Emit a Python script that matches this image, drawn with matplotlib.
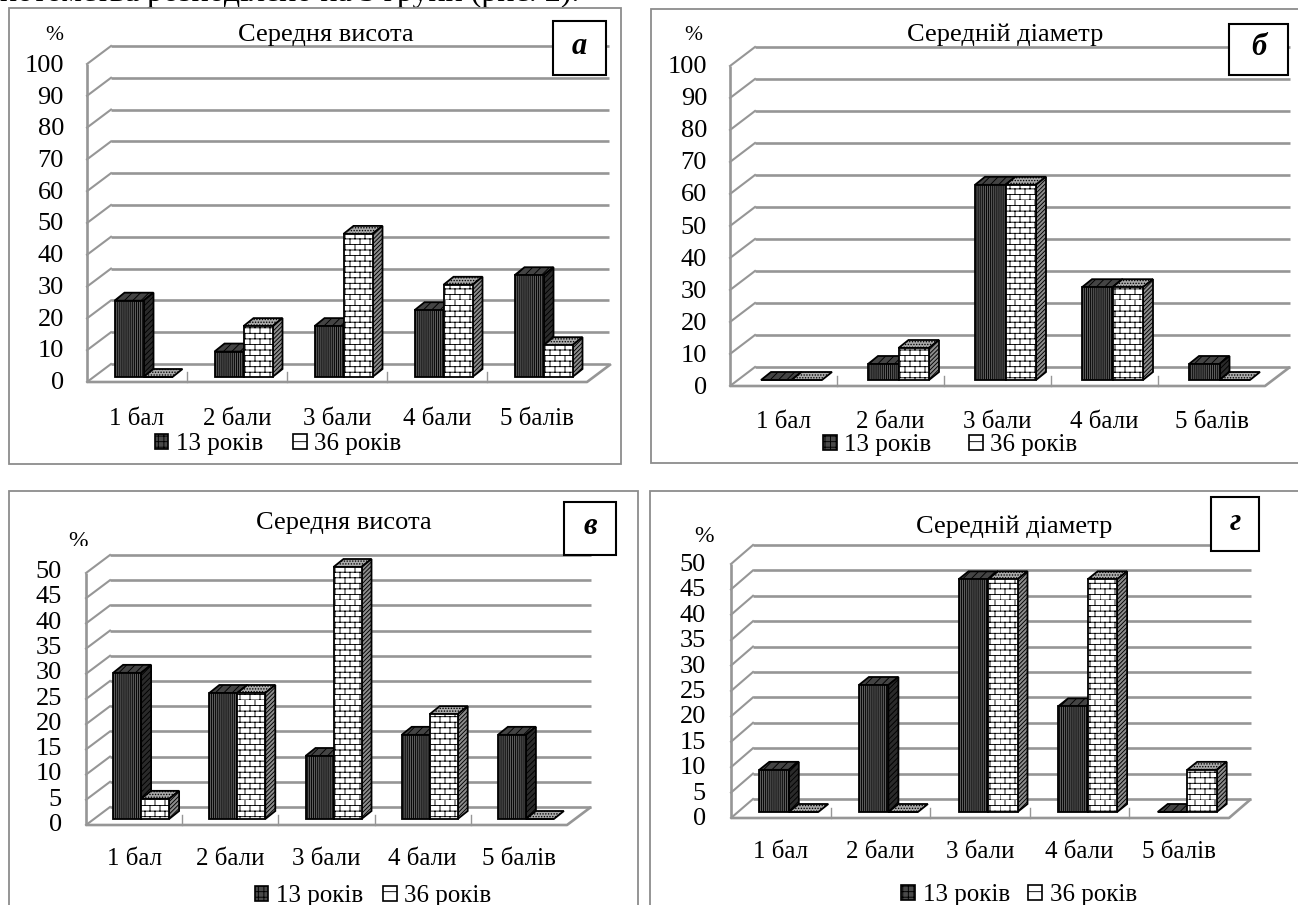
import numpy as np
import matplotlib
matplotlib.use("Agg")
import matplotlib.pyplot as plt
import matplotlib.hatch as mhatch
from matplotlib.path import Path
from matplotlib.patches import Rectangle, Patch
from matplotlib.transforms import Bbox

categories = ["1 бал", "2 бали", "3 бали", "4 бали", "5 балів"]
series_names = ["13 років", "36 років"]

a_13 = [24, 8, 16, 21, 32]
a_36 = [0, 16, 45, 29, 10]
b_13 = [0, 5, 61, 29, 5]
b_36 = [0, 10, 61, 29, 0]
c_13 = [29, 25, 12.5, 16.7, 16.7]
c_36 = [4, 25, 50, 20.8, 0]
d_13 = [8.3, 25, 45.8, 20.8, 0]
d_36 = [0, 0, 45.8, 45.8, 8.3]

ticks_100 = list(range(0, 101, 10))
ticks_50 = list(range(0, 51, 5))

W, H = 1298, 905
GRID = "#969696"
FRAME = "#8c8c8c"
SERIF = "Liberation Serif"


class Bricks(mhatch.HatchPatternBase):
    """Brick pattern for the 36-year series; takes over the 'O' symbol."""
    rows, cols = 18, 10

    def __init__(self, hatch, density):
        self.active = "O" in hatch
        self.num_vertices = (self.rows + self.rows * self.cols) * 2 if self.active else 0

    def set_vertices_and_codes(self, vertices, codes):
        if not self.active:
            return
        v = []
        for r in range(self.rows):
            y = r / self.rows
            v += [(0, y), (1, y)]
            off = 0 if r % 2 == 0 else 0.5 / self.cols
            for c in range(self.cols):
                x = (c / self.cols + off) % 1
                v += [(x, y), (x, y + 1 / self.rows)]
        vertices[:] = np.array(v)
        codes[0::2] = Path.MOVETO
        codes[1::2] = Path.LINETO


mhatch._hatch_types = [t for t in mhatch._hatch_types if t is not mhatch.LargeCircles] + [Bricks]

plt.rcParams["font.family"] = [SERIF, "DejaVu Serif"]
plt.rcParams["hatch.linewidth"] = 0.65

STYLE = [
    dict(front=("#5c5c5c", "||||||||"), side=("#2a2a2a", "//////"), top=("#444444", "////")),
    dict(front=("white", "O"), side=("#8c8c8c", "////////"), top=("#aaaaaa", "......")),
]


def fx(x):
    return x / W


def fy(y):
    return 1 - y / H


def draw_panel(p):
    x0, x1 = p["left"], p["right"]
    base, scale, vmax = p["base"], p["scale"], p["ticks"][-1]
    ax = fig.add_axes([fx(x0), fy(base), (x1 - x0) / W, vmax * scale / H], zorder=2)
    ax.set_xlim(0, 5)
    ax.set_ylim(0, vmax)
    ax.axis("off")
    ux = 5 / (x1 - x0)      # data units per pixel
    uy = 1 / scale
    fl = (p["floor"] - base) * uy
    bk = (base - p["back0"]) * uy
    bx = (p["backleft"] - x0) * ux
    ln = dict(color=GRID, lw=1.9, clip_on=False, zorder=1, solid_capstyle="butt")
    for v in p["ticks"]:
        ax.plot([bx, 5 + bx + p.get("extra", 0) * ux], [v + bk, v + bk], **ln)
        ax.plot([0, bx], [v - fl, v + bk], color=GRID, lw=1.5, clip_on=False, zorder=1)
    ax.plot([0, 0], [-fl, vmax - fl], **ln)
    ax.plot([0, 5, 5 + bx], [-fl, -fl, bk], **ln)
    for k in range(1, 5):
        ax.plot([k, k], [-fl, -fl + 10 * uy], color=GRID, lw=1.0, clip_on=False, zorder=1)

    w = p["barw"] * ux
    dx, dy = 10 * ux, 8 * uy
    edge = dict(edgecolor="black", linewidth=1.3, clip_on=False, zorder=3)
    centers = np.arange(5) + 0.5 + p["shift"] * ux
    for s, vals in enumerate((p["s13"], p["s36"])):
        xs = centers - w + s * w
        st = STYLE[s]
        for x, v in zip(xs, vals):
            ax.fill([x, x + dx, x + w + dx, x + w], [v, v + dy, v + dy, v],
                    facecolor=st["top"][0], hatch=st["top"][1], **edge)
            if v > 0:
                ax.fill([x + w, x + w + dx, x + w + dx, x + w], [0, dy, v + dy, v],
                        facecolor=st["side"][0], hatch=st["side"][1], **edge)
        ax.bar(xs, vals, w, align="edge", facecolor=st["front"][0], hatch=st["front"][1],
               label=series_names[s], **edge)

    for v in p["ticks"]:
        y = p["lab0"] - (p["lab0"] - p["labtop"]) * v / vmax
        fig.text(fx(p["ticklab"]), fy(y), str(v), ha="right", va="center", fontsize=19, zorder=5)
    for i, c in enumerate(categories):
        fig.text(fx(x0 + (x1 - x0) * (i + 0.5) / 5), fy(p["caty"]), c, ha="center", va="center",
                 fontsize=18, zorder=5)
    fig.text(fx(p["title"][0]), fy(p["title"][1]), p["name"], ha="center", va="center",
             fontsize=19, zorder=5)
    pct = fig.text(fx(p["pct"][0]), fy(p["pct"][1]), "%", ha="center", va="center",
                   fontsize=p["pct"][2], zorder=5)
    pct.set_clip_box(Bbox([[0, H - p["pct"][3]], [W, H]]))
    pct.set_clip_on(True)

    bl, bt, br, bb = p["box"]
    fig.add_artist(Rectangle((fx(bl), fy(bb)), (br - bl) / W, (bb - bt) / H, transform=fig.transFigure,
                             facecolor="white", edgecolor="black", linewidth=1.5, zorder=6))
    fig.text(fx((bl + br) / 2), fy((bt + bb) / 2 - 2), p["letter"], ha="center", va="center",
             fontsize=22, style="italic", weight="bold", zorder=7)

    handles = [Patch(facecolor=("#4a4a4a" if i == 0 else "white"), hatch=("+++" if i == 0 else "-"),
                     edgecolor="black", linewidth=1.2, label=series_names[i]) for i in range(2)]
    ax.legend(handles=handles, ncol=2, loc="center", frameon=False, fontsize=18,
              bbox_to_anchor=(fx(p["leg"][0]), fy(p["leg"][1])), bbox_transform=fig.transFigure,
              handlelength=0.55, handleheight=0.55, handletextpad=0.3,
              columnspacing=p["leg"][2], borderpad=0, borderaxespad=0)


panels = [
    dict(name="Середня висота", letter="а", s13=a_13, s36=a_36, ticks=ticks_100,
         left=87, right=587, base=377, scale=3.18, floor=382, back0=364, backleft=111, barw=29, shift=6.5,
         extra=-2, ticklab=64, lab0=383, labtop=66, caty=419, leg=(278, 444, 1.2),
         title=(326, 35), pct=(54, 36, 15.5, 44), box=(553, 21, 606, 75), frame=(9, 8.5, 621, 464)),
    dict(name="Середній діаметр", letter="б", s13=b_13, s36=b_36, ticks=ticks_100,
         left=730, right=1265, base=380, scale=3.2, floor=386, back0=367, backleft=755, barw=30.5, shift=8,
         extra=0, ticklab=707, lab0=388, labtop=67, caty=422, leg=(950, 445, 1.5),
         title=(1005, 35), pct=(693, 35, 15.5, 50), box=(1229, 24, 1288, 75), frame=(651, 9, 1300, 463)),
    dict(name="Середня висота", letter="в", s13=c_13, s36=c_36, ticks=ticks_50,
         left=86, right=567, base=819, scale=5.04, floor=825, back0=807, backleft=110, barw=28, shift=7,
         extra=0, ticklab=62, lab0=825, labtop=572, caty=859, leg=(373, 896, 0.8),
         title=(344, 523), pct=(78, 541, 17, 546), box=(564, 502, 616, 555), frame=(9, 491, 638, 920)),
    dict(name="Середній діаметр", letter="г", s13=d_13, s36=d_36, ticks=ticks_50,
         left=731, right=1229, base=812, scale=5.08, floor=818, back0=799, backleft=753, barw=29.5, shift=8,
         extra=0, ticklab=706, lab0=819, labtop=565, caty=852, leg=(1019, 895, 0.75),
         title=(1014, 527), pct=(704, 536, 17, 542), box=(1211, 497, 1259, 551), frame=(650, 491, 1300, 920)),
]

fig = plt.figure(figsize=(W / 100, H / 100), dpi=100, facecolor="white")

fig.text(0, fy(1), "потомства розподілено на 3 групи (рис. 2).", ha="left", va="baseline",
         fontsize=23, zorder=0)

for p in panels:
    l, t, r, b = p["frame"]
    fig.add_artist(Rectangle((fx(l), fy(b)), (r - l) / W, (b - t) / H, transform=fig.transFigure,
                             facecolor="white", edgecolor=FRAME, linewidth=1.3, zorder=1))
for p in panels:
    draw_panel(p)

fig.savefig("out.png", dpi=100)
